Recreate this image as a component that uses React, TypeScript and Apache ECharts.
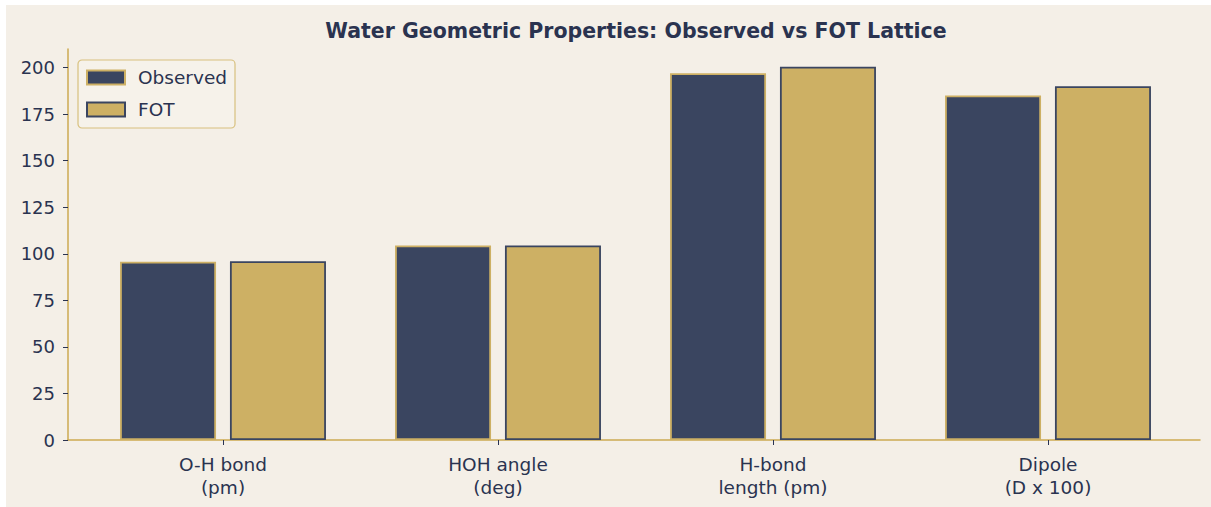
import React, { useEffect, useRef } from "react";
import * as echarts from "echarts";

const categories = ["O-H bond\n(pm)", "HOH angle\n(deg)", "H-bond\nlength (pm)", "Dipole\n(D x 100)"];
const observed = [95.8, 104.5, 197, 185];
const fot = [96, 104.5, 200.5, 190];
const yTicks = [0, 25, 50, 75, 100, 125, 150, 175, 200];
const title = "Water Geometric Properties: Observed vs FOT Lattice";

const NAVY = "#3a4560";
const GOLD = "#cdb064";
const SPINE = "#cdaa52";
const TEXT = "#2a3350";
const BG = "#f4efe7";
const FONT = "DejaVu Sans";

export default function App() {
  const ref = useRef<HTMLDivElement>(null);
  useEffect(() => {
    const chart = echarts.init(ref.current!, null, { renderer: "svg" });
    chart.setOption({
      animation: false,
      backgroundColor: BG,
      textStyle: { fontFamily: FONT },
      graphic: [
        {
          type: "text",
          x: 630,
          y: 26,
          style: {
            text: title,
            fontFamily: FONT,
            fontSize: 20.5,
            fontWeight: "bold",
            fill: TEXT,
            textAlign: "center",
            textVerticalAlign: "middle",
          },
        },
      ],
      legend: {
        orient: "vertical",
        left: 72,
        top: 55,
        padding: [8, 8, 9, 8],
        itemWidth: 38,
        itemHeight: 14,
        itemGap: 13,
        icon: "rect",
        borderColor: "#d8c07e",
        borderWidth: 1.2,
        borderRadius: 4,
        backgroundColor: "rgba(246,242,234,0.85)",
        textStyle: { fontFamily: FONT, fontSize: 18.5, color: TEXT, padding: [0, 0, 0, 8] },
        data: ["Observed", "FOT"],
      },
      grid: [
        { left: 62, right: 11, top: 44, bottom: 67 },
        { left: 79.5, right: 25.5, top: 44, bottom: 67 },
      ],
      xAxis: [
        {
          gridIndex: 0,
          type: "value",
          min: 0,
          max: 1,
          axisLine: { show: true, lineStyle: { color: SPINE, width: 1.5 } },
          axisTick: { show: false },
          axisLabel: { show: false },
          splitLine: { show: false },
        },
        {
          gridIndex: 1,
          type: "category",
          data: categories,
          axisLine: { show: false },
          axisTick: { show: true, alignWithLabel: true, length: 5, lineStyle: { color: TEXT, width: 1 } },
          axisLabel: { fontFamily: FONT, fontSize: 18.5, color: TEXT, lineHeight: 23, margin: 13 },
          splitLine: { show: false },
        },
      ],
      yAxis: [
        {
          gridIndex: 0,
          type: "value",
          min: 0,
          max: 210,
          interval: 25,
          axisLine: { show: true, lineStyle: { color: SPINE, width: 1.5 } },
          axisTick: { show: true, length: 5, lineStyle: { color: TEXT, width: 1 }, customValues: yTicks },
          axisLabel: { fontFamily: FONT, fontSize: 18, color: TEXT, margin: 13, customValues: yTicks },
          splitLine: { show: false },
        },
        { gridIndex: 1, type: "value", min: 0, max: 210, show: false },
      ],
      series: [
        {
          name: "Observed",
          type: "bar",
          xAxisIndex: 1,
          yAxisIndex: 1,
          data: observed,
          barWidth: 96,
          barGap: "14.5%",
          itemStyle: { color: NAVY, borderColor: GOLD, borderWidth: 1.8 },
        },
        {
          name: "FOT",
          type: "bar",
          xAxisIndex: 1,
          yAxisIndex: 1,
          data: fot,
          barWidth: 96,
          barGap: "14.5%",
          itemStyle: { color: GOLD, borderColor: NAVY, borderWidth: 1.8 },
        },
      ],
    });
    return () => chart.dispose();
  }, []);
  return (
    <div
      ref={ref}
      style={{ position: "absolute", left: 6, top: 5, width: 1205, height: 502 }}
    />
  );
}
